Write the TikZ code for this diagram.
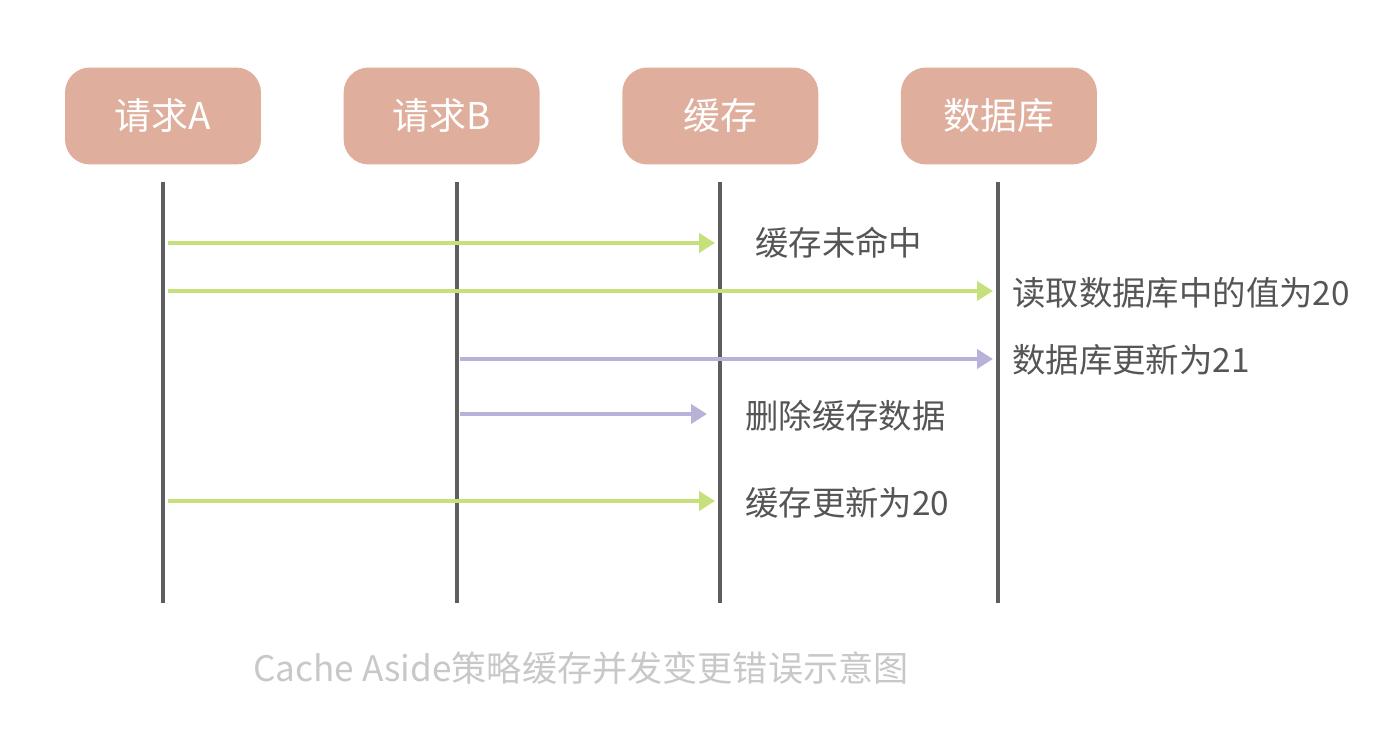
\documentclass[tikz,border=0pt]{standalone}
\usepackage{xcolor}
\usepackage{fontspec}
\setmainfont{Noto Sans CJK SC}
\usepackage{tikz}
\usetikzlibrary{arrows.meta, positioning}
\definecolor{boxred}{HTML}{E0AE9D}
\definecolor{lifegrey}{HTML}{5E5E5E}
\definecolor{msggreen}{HTML}{C6E07C}
\definecolor{msgpurple}{HTML}{B8B2D8}
\definecolor{textgrey}{HTML}{555555}
\definecolor{captiongrey}{HTML}{C8C8C8}
\tikzstyle{actor} = [rectangle, fill=boxred, text=white, rounded corners=0.5cm,
    minimum width=3.92cm, minimum height=1.94cm, font=\fontsize{21}{24}\selectfont]
\tikzstyle{life} = [draw=lifegrey, line width=0.07cm]
\tikzstyle{lineA} = [draw=msggreen, line width=0.08cm, -{Triangle[length=0.32cm, width=0.38cm]}]
\tikzstyle{lineB} = [draw=msgpurple, line width=0.08cm, -{Triangle[length=0.32cm, width=0.38cm]}]
\tikzstyle{msg} = [anchor=west, text=textgrey, inner sep=0pt, font=\fontsize{19}{22}\selectfont]
\tikzstyle{caption} = [text=captiongrey, inner sep=0pt, font=\fontsize{20}{24}\selectfont]

\begin{document}
\begin{tikzpicture}[x=0.02cm, y=-0.02cm, node distance = 1.64cm]
      \useasboundingbox (0,0) rectangle (1374,756);
      % Participants
      \node [actor] (reqA) at (163,116) {请求A};
      \node [actor, right=of reqA] (reqB) {请求B};
      \node [actor, right=of reqB] (cache) {缓存};
      \node [actor, right=of cache] (db) {数据库};
      % Lifelines
      \coordinate (reqA-top) at (163,182);
      \coordinate (reqA-bot) at (163,603);
      \coordinate (reqB-top) at (457,182);
      \coordinate (reqB-bot) at (457,603);
      \coordinate (cache-top) at (720,182);
      \coordinate (cache-bot) at (720,603);
      \coordinate (db-top) at (998,182);
      \coordinate (db-bot) at (998,603);
      \path [life] (reqA-top) -- (reqA-bot);
      \path [life] (reqB-top) -- (reqB-bot);
      \path [life] (cache-top) -- (cache-bot);
      \path [life] (db-top) -- (db-bot);
      % Messages
      \coordinate (miss-s) at (168,243);
      \coordinate (miss-e) at (715,243);
      \coordinate (read-s) at (168,291);
      \coordinate (read-e) at (993,291);
      \coordinate (update-s) at (460,359);
      \coordinate (update-e) at (993,359);
      \coordinate (delete-s) at (460,414);
      \coordinate (delete-e) at (707,414);
      \coordinate (write-s) at (168,501);
      \coordinate (write-e) at (715,501);
      \node [msg] (miss) at (755,243) {缓存未命中};
      \node [msg] (read) at (1012,293) {读取数据库中的值为20};
      \node [msg] (update) at (1012,360) {数据库更新为21};
      \node [msg] (delete) at (745,416) {删除缓存数据};
      \node [msg] (write) at (745,503) {缓存更新为20};
      % Draw edges
      \path [lineA] (miss-s) -- (miss-e);
      \path [lineA] (read-s) -- (read-e);
      \path [lineB] (update-s) -- (update-e);
      \path [lineB] (delete-s) -- (delete-e);
      \path [lineA] (write-s) -- (write-e);
      % Caption
      \node [caption] (title) at (581,668) {Cache Aside策略缓存并发变更错误示意图};
\end{tikzpicture}
\end{document}
